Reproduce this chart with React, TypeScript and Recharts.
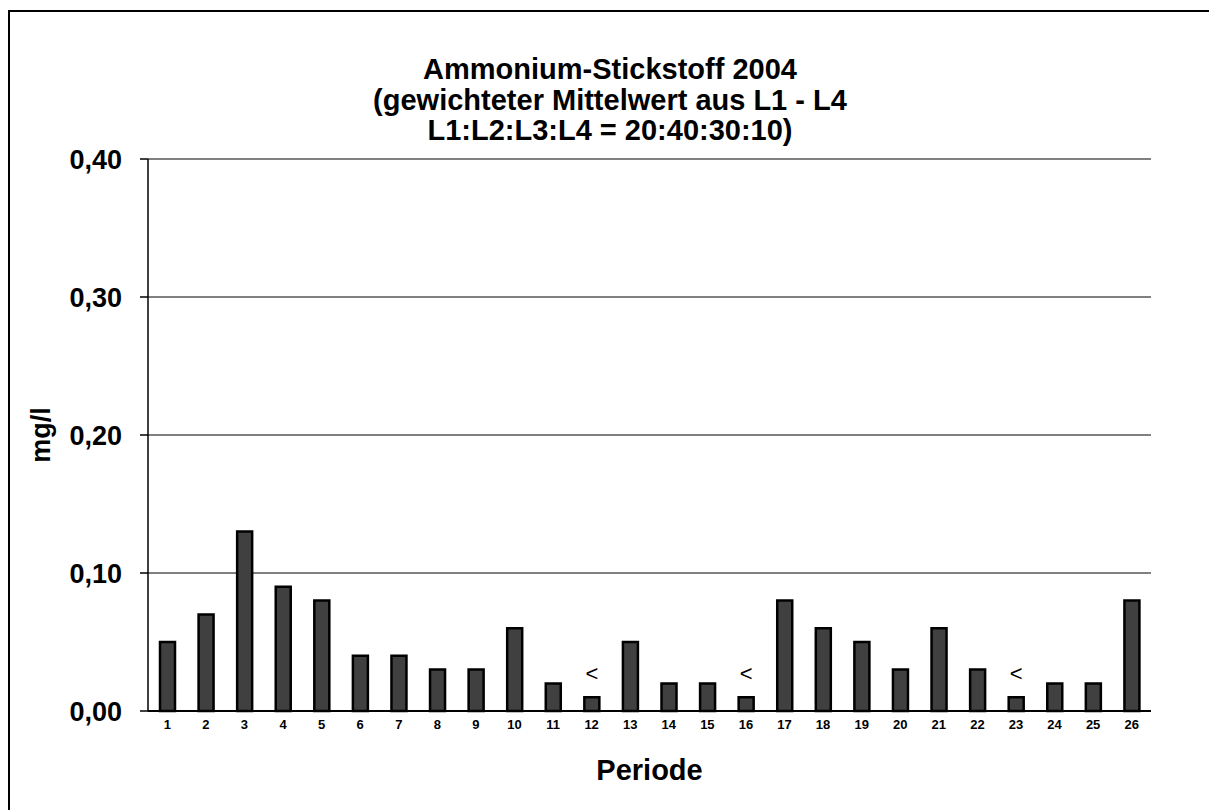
import React from "react";
import { BarChart, Bar, XAxis, YAxis, CartesianGrid, LabelList } from "recharts";

const periods = [1,2,3,4,5,6,7,8,9,10,11,12,13,14,15,16,17,18,19,20,21,22,23,24,25,26];
const values = [0.05,0.07,0.13,0.09,0.08,0.04,0.04,0.03,0.03,0.06,0.02,0.01,0.05,0.02,0.02,0.01,0.08,0.06,0.05,0.03,0.06,0.03,0.01,0.02,0.02,0.08];
const belowLimit = [12, 16, 23];
const yTicks = [0, 0.1, 0.2, 0.3, 0.4];
const titleLines = ["Ammonium-Stickstoff 2004", "(gewichteter Mittelwert aus L1 - L4", "L1:L2:L3:L4 = 20:40:30:10)"];
const xTitle = "Periode";
const yTitle = "mg/l";

const data = periods.map((p, i) => ({
  period: String(p),
  value: values[i],
  note: belowLimit.includes(p) ? "<" : "",
}));
const gridTicks = Array.from({ length: periods.length + 1 }, (_, i) => i);

const FONT = "'Liberation Sans', Arial, sans-serif";

export default function App() {
  return (
    <div style={{ position: "fixed", left: 0, top: 0, width: 1209, height: 810, overflow: "hidden", background: "#fff", fontFamily: FONT }}>
      <div style={{ position: "absolute", left: 8, top: 10, width: 1400, height: 1000, border: "2px solid #000", boxSizing: "border-box" }} />
      <div style={{ position: "absolute", left: 0, top: 0 }}>
        <BarChart width={1209} height={810} data={data} margin={{ top: 159, right: 58, bottom: 69, left: 60 }}>
          <CartesianGrid horizontal={true} vertical={false} stroke="#000" strokeWidth={1} yAxisId="left" />
          <XAxis
            xAxisId="grid"
            type="number"
            domain={[0, periods.length]}
            ticks={gridTicks}
            tick={false}
            axisLine={false}
            tickLine={{ stroke: "#000", strokeWidth: 1.5 }}
            tickSize={6}
            height={0}
            allowDataOverflow
          />
          <XAxis
            xAxisId="cat"
            dataKey="period"
            tickLine={false}
            tickSize={0}
            tickMargin={9}
            height={30}
            axisLine={{ stroke: "#000", strokeWidth: 2 }}
            interval={0}
            tick={{ fontSize: 13, fontWeight: "bold", fill: "#000", fontFamily: FONT }}
          />
          <YAxis
            yAxisId="left"
            domain={[0, 0.4]}
            ticks={yTicks}
            width={88}
            tickSize={8}
            tickMargin={18}
            tickFormatter={(v: number) => v.toFixed(2).replace(".", ",")}
            axisLine={{ stroke: "#000", strokeWidth: 1.5 }}
            tickLine={{ stroke: "#000", strokeWidth: 1.5 }}
            tick={{ fontSize: 27, fontWeight: "bold", fill: "#000", fontFamily: FONT }}
          />
          <YAxis
            yAxisId="right"
            orientation="right"
            domain={[0, 0.4]}
            ticks={yTicks}
            width={0}
            tick={false}
            tickLine={false}
            axisLine={{ stroke: "#808080", strokeWidth: 2 }}
          />
          <Bar
            dataKey="value"
            xAxisId="cat"
            yAxisId="left"
            barSize={15}
            fill="#404040"
            stroke="#000"
            strokeWidth={2.5}
            isAnimationActive={false}
          >
            <LabelList dataKey="note" position="top" offset={16} style={{ fontSize: 22, fill: "#000", fontFamily: FONT }} />
          </Bar>
        </BarChart>
      </div>
      <div style={{ position: "absolute", left: 0, width: 1220, top: 54, textAlign: "center", fontSize: 29, fontWeight: "bold", lineHeight: "30.5px", color: "#000" }}>
        {titleLines.map((t) => (
          <div key={t}>{t}</div>
        ))}
      </div>
      <div style={{ position: "absolute", left: 148, width: 1003, top: 752, textAlign: "center", fontSize: 29, fontWeight: "bold", lineHeight: "36px", color: "#000" }}>
        {xTitle}
      </div>
      <div style={{ position: "absolute", left: 41, top: 435, width: 0, height: 0 }}>
        <div style={{ position: "absolute", left: -60, top: -16, width: 120, lineHeight: "32px", textAlign: "center", fontSize: 27, fontWeight: "bold", color: "#000", transform: "rotate(-90deg)" }}>
          {yTitle}
        </div>
      </div>
    </div>
  );
}
